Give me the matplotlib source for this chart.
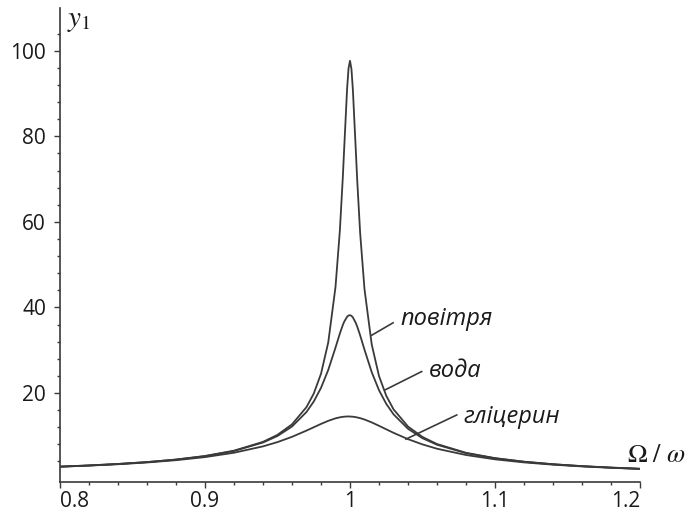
import matplotlib.pyplot as plt
from matplotlib.ticker import MultipleLocator, FixedLocator

plt.rcParams['mathtext.fontset'] = 'stix'

# frequency ratio Omega / omega
ratio = [0.80, 0.82, 0.84, 0.86, 0.88, 0.90, 0.92, 0.94, 0.95, 0.96, 0.97,
         0.975, 0.98, 0.985, 0.99, 0.993, 0.995, 0.996, 0.998, 0.999, 1.0,
         1.001, 1.002, 1.004, 1.005, 1.007, 1.01, 1.015, 1.02, 1.025, 1.03,
         1.04, 1.05, 1.06, 1.08, 1.10, 1.12, 1.14, 1.16, 1.18, 1.20]

# amplitude y1
air = [2.78, 3.05, 3.40, 3.84, 4.43, 5.26, 6.50, 8.56, 10.21, 12.66, 16.69,
       19.85, 24.48, 31.81, 44.77, 57.93, 70.13, 77.21, 91.15, 95.91, 97.66,
       95.74, 90.79, 76.71, 69.60, 57.38, 44.24, 31.29, 23.96, 19.34, 16.18,
       12.15, 9.70, 8.06, 6.00, 4.76, 3.93, 3.34, 2.89, 2.55, 2.27]
water = [2.77, 3.05, 3.39, 3.83, 4.41, 5.22, 6.43, 8.41, 9.94, 12.15, 15.55,
         17.99, 21.19, 25.38, 30.60, 33.89, 35.84, 36.65, 37.82, 38.11, 38.18,
         38.03, 37.66, 36.36, 35.50, 33.46, 30.10, 24.84, 20.64, 17.45, 15.01,
         11.62, 9.42, 7.89, 5.93, 4.72, 3.91, 3.32, 2.88, 2.54, 2.27]
glycerin = [2.75, 3.01, 3.33, 3.74, 4.28, 5.00, 6.02, 7.51, 8.51, 9.74, 11.20,
            11.98, 12.76, 13.48, 14.06, 14.30, 14.41, 14.45, 14.50, 14.50, 14.49,
            14.47, 14.44, 14.34, 14.27, 14.11, 13.79, 13.11, 12.32, 11.50, 10.68,
            9.20, 7.97, 6.96, 5.49, 4.48, 3.76, 3.23, 2.82, 2.50, 2.23]

x_ticks = [0.8, 0.9, 1.0, 1.1, 1.2]
x_labels = ['0.8', '0.9', '1', '1.1', '1.2']
y_ticks = [20, 40, 60, 80, 100]

ink = '#3a3a3a'

fig = plt.figure(figsize=(6.86, 5.12), dpi=100)
ax = fig.add_axes([60 / 686, 30.3 / 512, 580 / 686, 473.7 / 512])

for ys in (air, water, glycerin):
    ax.plot(ratio, ys, color=ink, lw=1.3, solid_joinstyle='round')

ax.set_xlim(0.8, 1.2)
ax.set_ylim(-0.75, 110)

for side in ('top', 'right'):
    ax.spines[side].set_visible(False)
for side in ('left', 'bottom'):
    ax.spines[side].set_color(ink)
    ax.spines[side].set_linewidth(1.2)

ax.set_xticks(x_ticks)
ax.set_xticklabels(x_labels)
ax.xaxis.set_minor_locator(MultipleLocator(0.02))
ax.set_yticks(y_ticks)
ax.yaxis.set_minor_locator(FixedLocator([v for v in range(4, 108, 4) if v % 20]))

ax.tick_params(which='major', length=4, width=1, color=ink, labelsize=15,
               labelcolor='#1a1a1a')
ax.tick_params(which='minor', length=2.5, width=1, color=ink)
ax.tick_params(axis='y', pad=6)
ax.tick_params(axis='x', pad=3)
for txt in ax.get_xticklabels() + ax.get_yticklabels():
    txt.set_family('Open Sans')
xl = ax.get_xticklabels()
xl[0].set_ha('left')
xl[-1].set_ha('right')

ax.text(0.012, 1.005, r'$y_1$', transform=ax.transAxes, fontsize=21,
        va='top', ha='left', color='#1a1a1a')
ax.text(1.2317, 2.4, r'$\Omega\ /\ \omega$', fontsize=19, va='bottom', ha='right',
        color='#1a1a1a', clip_on=False)

labels = [('повітря', (1.0150, 33.5), (1.0297, 36.4), (1.0345, 37.3)),
          ('вода', (1.0241, 20.7), (1.0494, 25.0), (1.0545, 25.2)),
          ('гліцерин', (1.0386, 9.2), (1.0736, 14.85), (1.0779, 14.45))]
for name, p0, p1, pt in labels:
    ax.plot([p0[0], p1[0]], [p0[1], p1[1]], color=ink, lw=1.2)
    ax.text(pt[0], pt[1], name, fontsize=17, style='italic', family='Open Sans',
            va='center', ha='left', color='#1a1a1a')

fig.savefig('out.png', dpi=100)
